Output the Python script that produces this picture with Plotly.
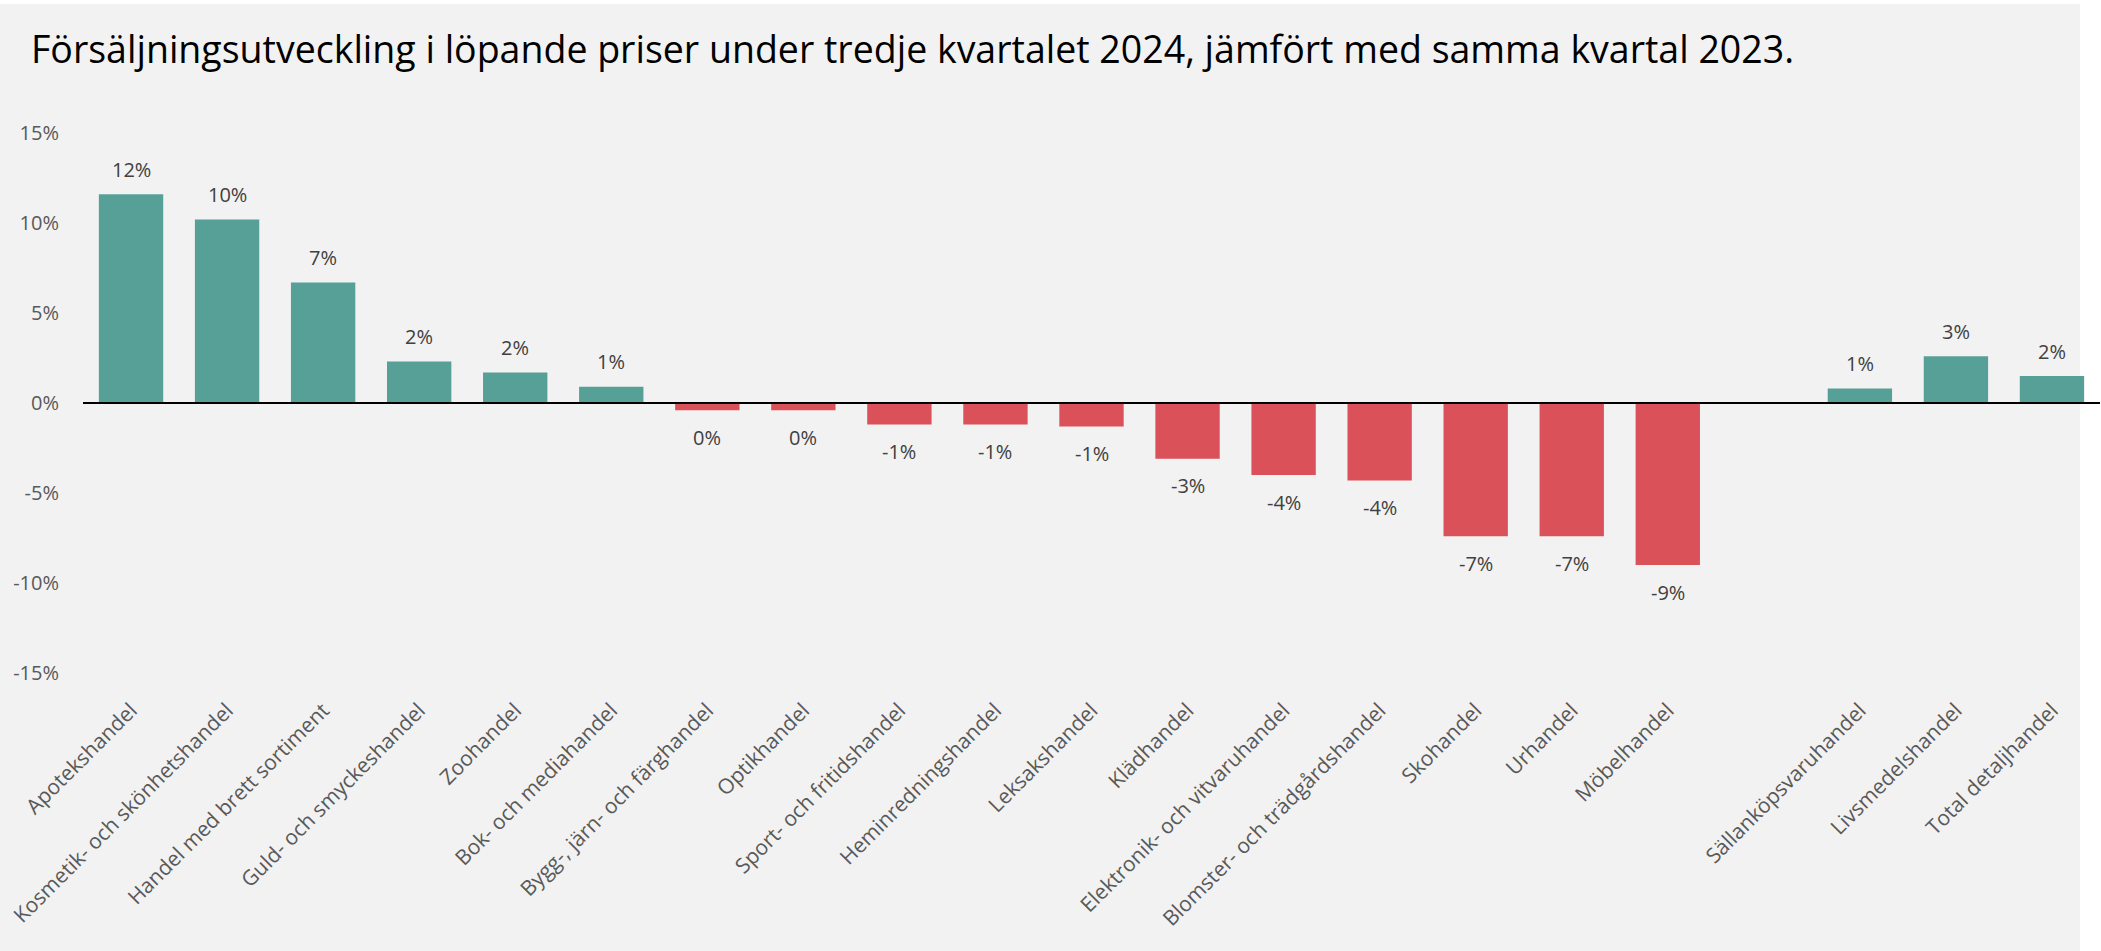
import plotly.graph_objects as go

# ---- data ----
branch_categories = [
    "Apotekshandel", "Kosmetik- och skönhetshandel", "Handel med brett sortiment",
    "Guld- och smyckeshandel", "Zoohandel", "Bok- och mediahandel",
    "Bygg-, järn- och färghandel", "Optikhandel", "Sport- och fritidshandel",
    "Heminredningshandel", "Leksakshandel", "Klädhandel",
    "Elektronik- och vitvaruhandel", "Blomster- och trädgårdshandel",
    "Skohandel", "Urhandel", "Möbelhandel",
]
branch_values = [11.6, 10.2, 6.7, 2.3, 1.7, 0.9, -0.4, -0.4, -1.2, -1.2, -1.3,
                 -3.1, -4.0, -4.3, -7.4, -7.4, -9.0]
summary_categories = ["Sällanköpsvaruhandel", "Livsmedelshandel", "Total detaljhandel"]
summary_values = [0.8, 2.6, 1.5]
gap_category = " "
y_tick_values = [15, 10, 5, 0, -5, -10, -15]
y_tick_labels = ["15%", "10%", "5%", "0%", "-5%", "-10%", "-15%"]
title_text = "Försäljningsutveckling i löpande priser under tredje kvartalet 2024, jämfört med samma kvartal 2023."

# ---- build ----
categories = branch_categories + [gap_category] + summary_categories
values = branch_values + [None] + summary_values

POS = "#57A098"
NEG = "#DA5159"
colors = [("#F2F2F2" if v is None else (POS if v >= 0 else NEG)) for v in values]

FONT = "Open Sans"

fig = go.Figure()
fig.add_trace(go.Bar(
    x=categories, y=values, marker_color=colors, marker_line_width=0,
    width=0.67, hoverinfo="skip", showlegend=False,
))

for c, v in zip(categories, values):
    if v is None:
        continue
    fig.add_annotation(
        x=c, y=v, text=f"{int(round(v))}%", showarrow=False,
        yshift=25 if v >= 0 else -27, yanchor="middle",
        font=dict(family=FONT, size=20, color="#404040"),
    )

fig.add_shape(type="line", xref="paper", yref="y", x0=0, x1=1, y0=0, y1=0,
              line=dict(color="#000000", width=2), layer="above")

fig.add_shape(type="rect", xref="paper", yref="paper",
              x0=-83 / 2017, x1=(2080 - 83) / 2017,
              y0=-278 / 540, y1=(540 + 133 - 4) / 540,
              fillcolor="#F2F2F2", line_width=0, layer="below")

fig.update_layout(
    width=2101, height=951,
    margin=dict(l=83, r=1, t=133, b=278, pad=0),
    paper_bgcolor="#FFFFFF", plot_bgcolor="rgba(0,0,0,0)",
    title=dict(text=title_text, x=31 / 2101, xanchor="left", xref="container",
               y=1 - 50 / 951, yanchor="middle", yref="container",
               font=dict(family=FONT, size=37.5, color="#000000")),
    bargap=0.33,
    font=dict(family=FONT),
)
fig.update_xaxes(
    type="category", categoryorder="array", categoryarray=categories,
    range=[-0.5, len(categories) - 0.5],
    tickangle=-45, tickfont=dict(family=FONT, size=21, color="#595959"),
    showgrid=False, zeroline=False, showline=False, ticks="",
    ticklabelstandoff=20,
)
fig.update_yaxes(
    range=[-15, 15], tickvals=y_tick_values, ticktext=y_tick_labels,
    tickfont=dict(family=FONT, size=20, color="#595959"),
    showgrid=False, zeroline=False, showline=False, ticks="",
    ticklabelstandoff=23,
)

fig.write_html("out.html", config={"displayModeBar": False},
               post_script="document.body.style.margin='0px';document.body.style.overflow='hidden';")
